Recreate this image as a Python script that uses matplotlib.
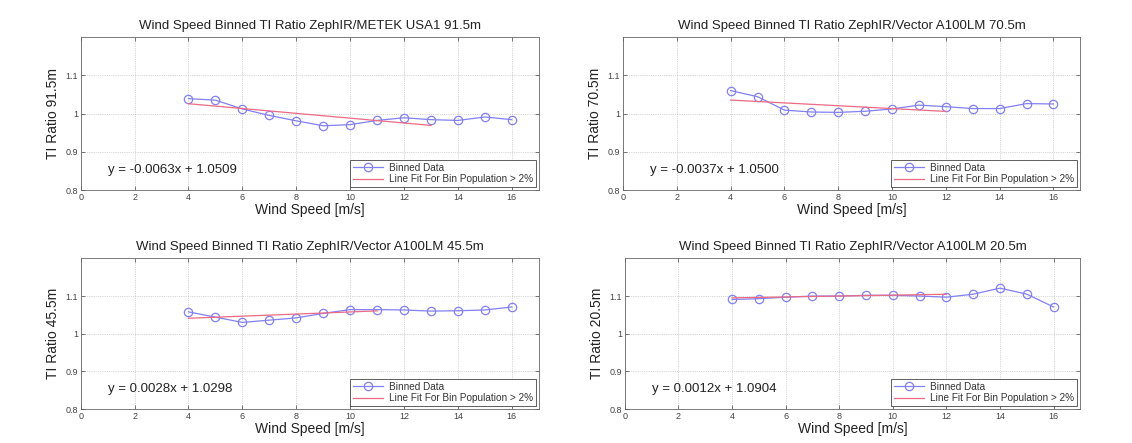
#!/usr/bin/env python3
"""
Wind speed binned TI ratio plots, four heights
"""

import matplotlib
matplotlib.use('Agg')
import matplotlib.pyplot as plt
import numpy as np

plt.rcParams['font.family'] = ['Liberation Sans', 'DejaVu Sans']

# Bin centres [m/s]
wind_bins = [4, 5, 6, 7, 8, 9, 10, 11, 12, 13, 14, 15, 16]

# Binned TI ratio per panel
ratio_915 = [1.039, 1.035, 1.012, 0.995, 0.981, 0.968, 0.971, 0.982, 0.989, 0.984, 0.982, 0.991, 0.984]
ratio_705 = [1.060, 1.044, 1.009, 1.004, 1.003, 1.006, 1.012, 1.022, 1.018, 1.013, 1.013, 1.026, 1.025]
ratio_455 = [1.058, 1.044, 1.030, 1.036, 1.042, 1.054, 1.064, 1.064, 1.063, 1.060, 1.061, 1.063, 1.071]
ratio_205 = [1.091, 1.093, 1.097, 1.100, 1.100, 1.102, 1.102, 1.100, 1.097, 1.105, 1.121, 1.105, 1.071]

# Linear fit coefficients and last bin used for the fit (population > 2%)
fit_slopes = [-0.0063, -0.0037, 0.0028, 0.0012]
fit_intercepts = [1.0509, 1.0500, 1.0298, 1.0904]
fit_last_bin = [13, 12, 11, 12]

titles = [
    'Wind Speed Binned TI Ratio ZephIR/METEK USA1 91.5m',
    'Wind Speed Binned TI Ratio ZephIR/Vector A100LM 70.5m',
    'Wind Speed Binned TI Ratio ZephIR/Vector A100LM 45.5m',
    'Wind Speed Binned TI Ratio ZephIR/Vector A100LM 20.5m',
]
ylabels = ['TI Ratio 91.5m', 'TI Ratio 70.5m', 'TI Ratio 45.5m', 'TI Ratio 20.5m']
equations = ['y = -0.0063x + 1.0509', 'y = -0.0037x + 1.0500',
             'y = 0.0028x + 1.0298', 'y = 0.0012x + 1.0904']
ratios = [ratio_915, ratio_705, ratio_455, ratio_205]

positions = [
    [0.0713, 0.571, 0.4046, 0.3454],
    [0.5504, 0.571, 0.4040, 0.3454],
    [0.0713, 0.0767, 0.4046, 0.3400],
    [0.5520, 0.0767, 0.4024, 0.3400],
]

blue = '#8280f2'
red = '#ec6a84'


def draw_panel(fig, pos, i):
    ax = fig.add_axes(pos)
    x = np.array(wind_bins)
    ax.plot(x, ratios[i], '-o', color=blue, lw=0.9, ms=6,
            mfc='none', mew=0.9, label='Binned Data')
    xf = x[x <= fit_last_bin[i]]
    ax.plot(xf, fit_slopes[i] * xf + fit_intercepts[i], '-', color=red,
            lw=0.9, label='Line Fit For Bin Population > 2%')

    ax.set_xlim(0, 17)
    ax.set_ylim(0.8, 1.2)
    ax.set_xticks(range(0, 17, 2))
    ax.set_yticks([0.8, 0.9, 1.0, 1.1])
    ax.set_yticklabels(['0.8', '0.9', '1', '1.1'])
    ax.tick_params(direction='in', length=3, width=0.5, labelsize=6.5,
                   top=True, right=True, pad=2, colors='#444444')
    ax.grid(True, linestyle=':', linewidth=0.5, color='#b0b0b0')
    for sp in ax.spines.values():
        sp.set_linewidth(0.6)
        sp.set_color('#666666')

    ax.set_title(titles[i], fontsize=9.5, pad=6, color='#222222')
    ax.set_xlabel('Wind Speed [m/s]', fontsize=10, labelpad=1, color='#222222')
    ax.set_ylabel(ylabels[i], fontsize=10, labelpad=4, color='#222222')
    ax.text(1.0, 0.853, equations[i], fontsize=9.5, va='center', ha='left',
            color='#222222')

    leg = ax.legend(loc='lower right', fontsize=7.2, fancybox=False,
                    framealpha=1, borderpad=0.3, handlelength=3.0,
                    handletextpad=0.6, labelspacing=0.15, borderaxespad=0.3)
    leg.get_frame().set_edgecolor('#444444')
    leg.get_frame().set_linewidth(0.6)
    for t in leg.get_texts():
        t.set_color('#333333')
    return ax


def main():
    fig = plt.figure(figsize=(11.32, 4.43), dpi=100)
    for i, pos in enumerate(positions):
        draw_panel(fig, pos, i)
    fig.savefig('out.png', dpi=100)


if __name__ == '__main__':
    main()
